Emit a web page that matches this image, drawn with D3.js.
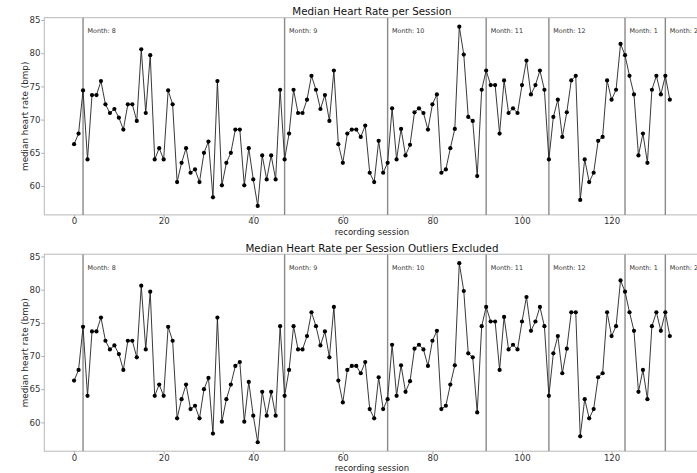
<!DOCTYPE html>
<html>
<head>
<meta charset="utf-8">
<script src="https://cdn.jsdelivr.net/npm/d3@7"></script>
<style>
  body { margin: 0; background: #fff; }
  svg { display: block; font-family: "DejaVu Sans", sans-serif; }
</style>
</head>
<body>
<svg id="chart" width="697" height="473"></svg>
<script>
// ---- data ----
const sessionValues = [
  66.3, 67.9, 74.4, 64.0, 73.7, 73.7, 75.8, 72.3, 71.0, 71.6,
  70.3, 68.5, 72.3, 72.3, 69.8, 80.6, 71.0, 79.7, 64.0, 65.7,
  64.0, 74.4, 72.3, 60.6, 63.5, 65.7, 62.0, 62.5, 60.6, 65.0,
  66.7, 58.3, 75.8, 60.1, 63.5, 65.0, 68.5, 68.5, 60.1, 65.7,
  61.0, 57.0, 64.6, 61.0, 64.6, 61.0, 74.5, 64.0, 67.9, 74.5,
  71.0, 71.0, 73.0, 76.6, 74.5, 71.6, 73.7, 69.8, 77.4, 66.3,
  63.5, 67.9, 68.5, 68.5, 67.4, 69.1, 62.0, 60.6, 66.8, 62.0,
  63.5, 71.7, 64.0, 68.6, 64.6, 66.2, 71.1, 71.7, 71.0, 68.5,
  72.3, 73.8, 62.0, 62.5, 65.7, 68.6, 84.0, 79.8, 70.4, 69.8,
  61.5, 74.5, 77.4, 75.2, 75.2, 67.9, 75.9, 71.0, 71.7, 71.0,
  75.2, 78.9, 73.8, 75.2, 77.4, 74.5, 64.0, 70.4, 73.0, 67.4,
  71.1, 75.9, 76.6, 57.9, 64.0, 60.6, 62.0, 66.8, 67.4, 75.9,
  73.0, 74.5, 81.4, 79.7, 76.6, 73.8, 64.6, 67.9, 63.5, 74.5,
  76.6, 73.8, 76.6, 73.0
];
const excludedValues = [
  66.3, 67.9, 74.4, 64.0, 73.7, 73.7, 75.8, 72.3, 71.0, 71.6,
  70.3, 67.9, 72.3, 72.3, 69.8, 80.6, 71.0, 79.7, 64.0, 65.7,
  64.0, 74.4, 72.3, 60.6, 63.5, 65.7, 62.0, 62.5, 60.6, 65.0,
  66.7, 58.3, 75.8, 60.1, 63.5, 65.7, 68.5, 69.1, 60.1, 66.1,
  61.0, 57.0, 64.6, 61.0, 64.6, 61.0, 74.5, 64.0, 67.9, 74.5,
  71.0, 71.0, 73.0, 76.6, 74.5, 71.6, 73.7, 69.8, 77.4, 66.3,
  63.0, 67.9, 68.5, 68.5, 67.4, 69.1, 62.0, 60.6, 66.8, 62.0,
  63.5, 71.7, 64.0, 68.6, 64.6, 66.2, 71.1, 71.7, 71.0, 68.5,
  72.3, 73.8, 62.0, 62.5, 65.7, 68.6, 84.0, 79.8, 70.4, 69.8,
  61.5, 74.5, 77.4, 75.2, 75.2, 67.9, 75.9, 71.0, 71.7, 71.0,
  75.2, 78.9, 73.8, 75.2, 77.4, 74.5, 64.0, 70.4, 73.0, 67.4,
  71.1, 76.6, 76.6, 57.9, 63.5, 60.6, 62.0, 66.8, 67.4, 76.6,
  73.0, 74.5, 81.4, 79.7, 76.6, 73.8, 64.6, 67.9, 63.5, 74.5,
  76.6, 73.8, 76.6, 73.0
];
const monthStarts = [2, 47, 70, 92, 106, 123, 132];
const monthLabels = ["Month: 8", "Month: 9", "Month: 10", "Month: 11", "Month: 12", "Month: 1", "Month: 2"];
const xTicks = [0, 20, 40, 60, 80, 100, 120];
const yTicks = [60, 65, 70, 75, 80, 85];
const titles = ["Median Heart Rate per Session", "Median Heart Rate per Session Outliers Excluded"];
const xLabel = "recording session";
const yLabel = "median heart rate (bmp)";

// ---- drawing ----
const svg = d3.select("#chart");
const left = 44.3, right = 699.6;

function panel(values, title, top, bottom) {
  const g = svg.append("g");
  const n = values.length;
  const xmin = 0, xmax = n - 1;
  const xm = (xmax - xmin) * 0.05;
  const x = d3.scaleLinear().domain([xmin - xm, xmax + xm]).range([left, right]);
  const ymin = d3.min(values), ymax = d3.max(values);
  const ym = (ymax - ymin) * 0.05;
  const y = d3.scaleLinear().domain([ymin - ym, ymax + ym]).range([bottom, top]);

  const clipId = "clip" + Math.round(top);
  svg.append("clipPath").attr("id", clipId)
    .append("rect").attr("x", left).attr("y", top).attr("width", right - left).attr("height", bottom - top);

  // axes
  const xAxis = g.append("g").attr("transform", `translate(0,${bottom})`)
    .call(d3.axisBottom(x).tickValues(xTicks).tickSize(3).tickPadding(0.3).tickFormat(d3.format("d")));
  const yAxis = g.append("g").attr("transform", `translate(${left},0)`)
    .call(d3.axisLeft(y).tickValues(yTicks).tickSize(3).tickPadding(0.8).tickFormat(d3.format("d")));
  [xAxis, yAxis].forEach(a => {
    a.select(".domain").remove();
    a.selectAll(".tick line").attr("stroke", "#999").attr("stroke-width", 0.8);
    a.selectAll(".tick text").attr("fill", "#333").style("font-size", "8.6px").style("font-family", "DejaVu Sans");
  });

  // spines
  g.append("rect").attr("x", left).attr("y", top).attr("width", right - left).attr("height", bottom - top)
    .attr("fill", "none").attr("stroke", "#b8b8b8").attr("stroke-width", 1);

  const inner = g.append("g").attr("clip-path", `url(#${clipId})`);

  // month lines
  monthStarts.forEach((m, i) => {
    inner.append("line").attr("x1", x(m)).attr("x2", x(m)).attr("y1", top).attr("y2", bottom)
      .attr("stroke", "#8a8a8a").attr("stroke-width", 1.4);
    g.append("text").attr("x", x(m + 1)).attr("y", top + 15.5)
      .attr("fill", "#333").style("font-size", "6.4px").text(monthLabels[i]);
  });

  const pts = values.map((v, i) => [i, v]);
  inner.append("path").datum(pts)
    .attr("fill", "none").attr("stroke", "#222").attr("stroke-width", 0.9)
    .attr("d", d3.line().x(d => x(d[0])).y(d => y(d[1])));
  inner.selectAll("circle.pt").data(pts).enter().append("circle")
    .attr("cx", d => x(d[0])).attr("cy", d => y(d[1])).attr("r", 2.1).attr("fill", "#000");

  // title
  g.append("text").attr("x", (left + right) / 2).attr("y", top - 2.4)
    .attr("text-anchor", "middle").attr("fill", "#111").style("font-size", "10.3px").text(title);
  // x label
  g.append("text").attr("x", (left + right) / 2).attr("y", bottom + 19.6)
    .attr("text-anchor", "middle").attr("fill", "#222").style("font-size", "8.5px").text(xLabel);
  // y label
  g.append("text").attr("transform", `translate(28,${(top + bottom) / 2}) rotate(-90)`)
    .attr("text-anchor", "middle").attr("fill", "#222").style("font-size", "8.8px").text(yLabel);
}

panel(sessionValues, titles[0], 17.7, 214.9);
panel(excludedValues, titles[1], 254.2, 451.2);
</script>
</body>
</html>
